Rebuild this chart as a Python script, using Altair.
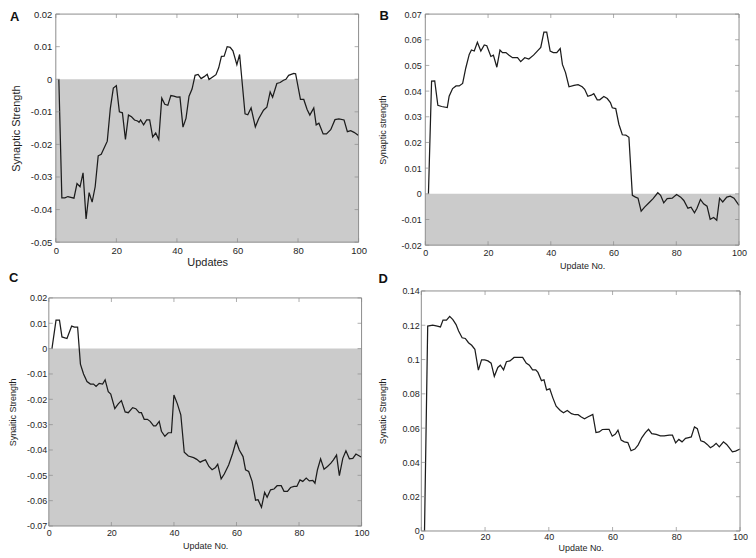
import altair as alt
import pandas as pd

FONT = "Liberation Sans"
TXT = "#1e1e1e"
FRAME = "#8c8c8c"
SHADE = "#cbcbcb"
LINE = "#1c1c1c"

X_TICKS = [0, 20, 40, 60, 80, 100]

# ---------------- Panel A ----------------
a_x = [1, 2, 3, 4, 6, 7, 8, 9, 10, 11, 12, 13, 14, 15, 16, 17, 18, 19, 20, 21, 22, 23, 24, 25, 26, 27, 27.5,
       28, 29, 30, 31, 32, 33, 34, 35, 36, 37, 38, 39, 40, 41, 42, 43, 44, 45, 46, 47, 48, 49, 50,
       50.6, 51.8, 52.9, 53.8, 54.7, 55.6, 56.6, 57.6, 58.5, 59.8, 60.7,
       62.5, 63.4, 64.5, 65.9, 67, 68.6, 69.7, 70.8, 71.6, 73,
       74.1, 75.2, 76, 76.9, 78.6, 79.2, 80.8, 81.9, 83, 83.9,
       85.2, 86, 86.9, 88.3, 89.4, 90.8, 92.2, 93.5, 95.2, 96.3, 97.4, 98.5, 100]
a_y = [0, -0.0364, -0.0364, -0.036, -0.0365, -0.032, -0.033, -0.0287, -0.0429,
       -0.0348, -0.0377, -0.033, -0.0235, -0.023, -0.021, -0.019, -0.009, -0.0027, -0.002, -0.01, -0.0103,
       -0.0185, -0.011, -0.0115, -0.0125, -0.0128, -0.0132,
       -0.0125, -0.014, -0.0125, -0.0125, -0.0177, -0.0165, -0.0185, -0.0058, -0.0077, -0.008, -0.005,
       -0.0052, -0.0055, -0.0054, -0.0147, -0.012, -0.0052, -0.003, 0.0012, 0.0015, 0.0002, 0.0008, 0.0015,
       -0.0001, 0.0007, 0.0014, 0.0035, 0.007, 0.0071, 0.01, 0.0098, 0.0087, 0.0045, 0.0076,
       -0.0106, -0.0109, -0.0088, -0.0146, -0.0121, -0.0095, -0.0086, -0.0039, -0.0055, -0.0013,
       -0.001, -0.0003, 0, 0.0012, 0.0018, 0.0017, -0.0062, -0.0062, -0.0093, -0.011,
       -0.0088, -0.014, -0.0135, -0.0168, -0.0168, -0.0155, -0.0124, -0.0122, -0.0125, -0.0161,
       -0.0158, -0.0163, -0.0173]
a_yticks = [-0.05, -0.04, -0.03, -0.02, -0.01, 0, 0.01, 0.02]

# ---------------- Panel B ----------------
b_x = [1, 2, 3, 4, 5.2, 7, 7.6, 8.7, 9.8, 10.8, 11.9, 12.9, 14, 14.7, 15.6, 16.6, 17.7, 18.8, 19.6, 20.9,
       21.7, 22.8, 23.8, 24.6, 25.7, 26.7, 27.8, 29.4, 30.4, 31.7, 33, 34.5, 35.7, 36.8, 37.8, 38.7, 39.8,
       40.8, 41.9, 43, 43.7, 44.7, 45.8, 47.4, 48.7, 50, 50.8, 51.8, 52.9, 53.7, 54.8, 55.6, 56.9, 58, 59,
       59.6, 60.7, 61.7, 62.8, 63.9, 64.9, 66, 67, 67.8, 68.8, 69.9, 71.3, 72.6, 74.1, 75, 76, 77.1, 78.7,
       80.1, 81.4, 82.4, 83.7, 84.7, 85.8, 86.6, 87.7, 88.7, 89.8, 90.8, 91.9, 92.9, 93.8, 94.8, 96.1, 97.2,
       98.4, 100]
b_y = [0, 0.0439, 0.044, 0.0345, 0.034, 0.0336, 0.038, 0.041, 0.042, 0.042, 0.043, 0.049, 0.0543, 0.056,
       0.0556, 0.059, 0.0556, 0.058, 0.0577, 0.0535, 0.054, 0.0493, 0.056, 0.055, 0.055, 0.054, 0.053,
       0.053, 0.0515, 0.053, 0.0525, 0.054, 0.0556, 0.057, 0.063, 0.063, 0.0556, 0.055, 0.055, 0.0566,
       0.0504, 0.0472, 0.0417, 0.0422, 0.0425, 0.0417, 0.0407, 0.038, 0.0384, 0.039, 0.0366, 0.0366,
       0.0379, 0.0371, 0.0355, 0.0335, 0.0332, 0.0271, 0.023, 0.0229, 0.022, -0.0006, -0.0013, -0.0017,
       -0.0068, -0.0052, -0.0035, -0.0019, 0.0004, -0.0006, -0.0035, -0.0019, -0.0017, -0.0003, -0.0013,
       -0.0026, -0.0056, -0.0052, -0.0074, -0.0056, -0.0022, -0.0039, -0.0048, -0.0099, -0.0092, -0.0103,
       -0.0017, -0.0032, -0.0013, -0.0009, -0.0017, -0.0045]
b_yticks = [-0.02, -0.01, 0, 0.01, 0.02, 0.03, 0.04, 0.05, 0.06, 0.07]

# ---------------- Panel C ----------------
c_x = [1, 2.3, 3.4, 4.2, 5.8, 7.3, 8.2, 9.2, 10.1, 11.1, 12.2, 13.3, 14.3, 15.1, 16.1, 17.2, 18, 19, 19.8,
       21.1, 22.2, 23.2, 24.4, 25.4, 26.8, 27.8, 28.9, 29.6, 30.5, 31.5, 32.4, 33.5, 34.2, 35.3, 36, 37.1,
       38.2, 39.2, 40, 41.1, 42.2, 43.3, 44.6, 46.3, 47.3, 48.4, 49.2, 50.1, 51.2, 52.2, 53.3, 54, 55.1,
       56.1, 57.5, 58.8, 59.9, 60.9, 62.1, 62.9, 63.9, 65, 66.1, 66.9, 68, 69, 69.8, 70.9, 72, 73, 74.3,
       75.2, 76.3, 77.3, 78.4, 79.3, 80.3, 81.2, 82.3, 83.3, 84.4, 85.1, 85.9, 86.9, 88, 89.1, 90.2, 91,
       92, 92.9, 94, 95, 96.1, 97.2, 98.2, 100]
c_y = [0, 0.0112, 0.0112, 0.0046, 0.004, 0.0089, 0.0085, 0.0085, -0.0061, -0.01, -0.013, -0.014, -0.014,
       -0.0149, -0.0137, -0.014, -0.0123, -0.017, -0.0179, -0.0237, -0.0218, -0.0205, -0.025, -0.0253,
       -0.0233, -0.0237, -0.0253, -0.0253, -0.0279, -0.0279, -0.0287, -0.0305, -0.0305, -0.0287, -0.0326,
       -0.0346, -0.0332, -0.0332, -0.0183, -0.0218, -0.0261, -0.0409, -0.0424, -0.043, -0.0437, -0.0448,
       -0.0443, -0.0439, -0.0465, -0.0478, -0.0469, -0.0456, -0.0514, -0.0495, -0.0459, -0.0413, -0.0365,
       -0.04, -0.0426, -0.0478, -0.0485, -0.0524, -0.0598, -0.0596, -0.0626, -0.0567, -0.0587, -0.0557,
       -0.0554, -0.0541, -0.0541, -0.0563, -0.0563, -0.0548, -0.0544, -0.0544, -0.0518, -0.0524, -0.0511,
       -0.0522, -0.052, -0.0531, -0.0478, -0.0435, -0.0476, -0.0465, -0.0452, -0.0439, -0.042, -0.0501,
       -0.0433, -0.0403, -0.0435, -0.0433, -0.0416, -0.0429]
c_yticks = [-0.07, -0.06, -0.05, -0.04, -0.03, -0.02, -0.01, 0, 0.01, 0.02]

# ---------------- Panel D ----------------
d_x = [1, 2, 3.6, 5, 6, 6.8, 7.9, 8.9, 9.9, 10.9, 11.7, 12.8, 13.8, 14.8, 15.8, 16.8, 17.9, 18.9, 19.9, 20.9,
       21.9, 22.9, 24, 24.8, 25.8, 26.7, 27.8, 29.1, 30.3, 31.8, 32.9, 33.9, 34.9, 35.9, 36.6, 37.7, 38.5,
       39.3, 40.3, 41.3, 42.3, 43.6, 44.6, 45.8, 47.1, 48.2, 49.2, 50.2, 51.2, 52.2, 53.8, 54.8, 55.8, 56.8,
       58, 58.9, 59.9, 60.9, 61.7, 62.7, 63.7, 64.8, 65.8, 67, 68, 69.2, 70.3, 71.3, 72.3, 73.7, 75, 76.2,
       77.8, 78.8, 79.8, 80.8, 81.8, 82.9, 83.9, 84.7, 85.7, 86.6, 87.7, 88.7, 89.7, 90.7, 91.7, 92.5, 93.5,
       94.8, 95.8, 96.6, 97.6, 98.6, 100]
d_y = [0, 0.1195, 0.12, 0.1195, 0.119, 0.123, 0.123, 0.1252, 0.1233, 0.1204, 0.1166, 0.1127, 0.1123, 0.1098,
       0.1083, 0.106, 0.0938, 0.0998, 0.0998, 0.0992, 0.0979, 0.0902, 0.0954, 0.0967, 0.094, 0.0987,
       0.0992, 0.1012, 0.1012, 0.1012, 0.0979, 0.0967, 0.094, 0.094, 0.0925, 0.0877, 0.0882, 0.0823,
       0.0829, 0.0775, 0.0728, 0.0703, 0.069, 0.0703, 0.0684, 0.0678, 0.0678, 0.0665, 0.0655, 0.0665,
       0.068, 0.0574, 0.0578, 0.0592, 0.0593, 0.0593, 0.0553, 0.0565, 0.0588, 0.053, 0.052, 0.0516,
       0.0468, 0.0478, 0.0501, 0.0545, 0.0574, 0.0593, 0.0568, 0.0563, 0.0555, 0.0555, 0.0559, 0.0559,
       0.0514, 0.0534, 0.052, 0.054, 0.0545, 0.0549, 0.0607, 0.0597, 0.0526, 0.052, 0.0505, 0.0486,
       0.0497, 0.0511, 0.0491, 0.052, 0.0505, 0.0486, 0.0462, 0.0466, 0.0478]
d_yticks = [0, 0.02, 0.04, 0.06, 0.08, 0.1, 0.12, 0.14]


def panel(xs, ys, yticks, shaded, letter, lx, ly, xtitle, ytitle, w, h, top_off, left_off,
          lab_fs, tit_fs, ytp, xtp, lpad_y, lpad_x):
    ymin, ymax = yticks[0], yticks[-1]
    H = h + top_off
    W = w + left_off
    line_df = pd.DataFrame({"x": xs, "y": ys})
    shade_df = pd.DataFrame({"x0": [X_TICKS[0]], "x1": [X_TICKS[-1]],
                             "y0": [ymin], "y1": [0 if shaded else ymin]})
    frame_df = pd.DataFrame({"x0": [X_TICKS[0]], "x1": [X_TICKS[-1]],
                             "y0": [ymin], "y1": [ymax]})
    xt_top = pd.DataFrame({"x": X_TICKS, "y": [ymax] * len(X_TICKS)})
    xt_bot = pd.DataFrame({"x": X_TICKS, "y": [ymin] * len(X_TICKS)})
    yt_left = pd.DataFrame({"x": [X_TICKS[0]] * len(yticks), "y": yticks})
    yt_right = pd.DataFrame({"x": [X_TICKS[-1]] * len(yticks), "y": yticks})

    xs_ = alt.Scale(domain=[X_TICKS[0], X_TICKS[-1]], nice=False, zero=False, range=[left_off, W])
    ys_ = alt.Scale(domain=[ymin, ymax], nice=False, zero=False, range=[H, top_off])
    lab = dict(labelFont=FONT, labelFontSize=lab_fs, labelColor=TXT, labelFlush=False,
               labelOverlap=False, titleFont=FONT, titleFontSize=tit_fs,
               titleFontWeight="normal", titleColor=TXT, labelExpr="'' + datum.value",
               ticks=False, tickSize=0, domain=False, grid=False)
    x_ax = alt.Axis(orient="bottom", values=X_TICKS, title=xtitle, titlePadding=xtp,
                    labelPadding=lpad_x, **lab)
    y_ax = alt.Axis(orient="left", values=yticks, title=ytitle, titlePadding=ytp,
                    labelPadding=lpad_y, offset=-left_off, **lab)

    def X(f):
        return alt.X(f, scale=xs_, axis=x_ax)

    def Y(f):
        return alt.Y(f, scale=ys_, axis=y_ax)

    shade = alt.Chart(shade_df).mark_rect(color=SHADE).encode(
        x=X("x0:Q"), x2="x1:Q", y=Y("y0:Q"), y2="y1:Q")
    line = alt.Chart(line_df).mark_line(color=LINE, strokeWidth=1.25).encode(
        x=X("x:Q"), y=Y("y:Q"))
    frame = alt.Chart(frame_df).mark_rect(fill="transparent", stroke=FRAME, strokeWidth=1).encode(
        x=X("x0:Q"), x2="x1:Q", y=Y("y0:Q"), y2="y1:Q")
    tk = dict(color=FRAME, size=4, thickness=1)
    t1 = alt.Chart(xt_top).mark_tick(orient="vertical", yOffset=2, **tk).encode(x=X("x:Q"), y=Y("y:Q"))
    t2 = alt.Chart(xt_bot).mark_tick(orient="vertical", yOffset=-2, **tk).encode(x=X("x:Q"), y=Y("y:Q"))
    t3 = alt.Chart(yt_left).mark_tick(orient="horizontal", xOffset=2, **tk).encode(x=X("x:Q"), y=Y("y:Q"))
    t4 = alt.Chart(yt_right).mark_tick(orient="horizontal", xOffset=-2, **tk).encode(x=X("x:Q"), y=Y("y:Q"))
    let = alt.Chart(pd.DataFrame({"t": [letter]})).mark_text(
        font=FONT, fontSize=13, fontWeight="bold", align="left", baseline="top", color="#111"
    ).encode(text="t:N", x=alt.value(lx + left_off), y=alt.value(ly + top_off))
    return alt.layer(shade, line, frame, t1, t2, t3, t4, let).properties(width=W, height=H)


pA = panel(a_x, a_y, a_yticks, True, "A", -46, -3.5, "Updates", "Synaptic Strength", 304, 229, 0, 7,
           9.5, 11, 9, 2, 4, 3)
pB = panel(b_x, b_y, b_yticks, True, "B", -46, -4, "Update No.", "Synaptic strength", 315, 232, 0, 0,
           9, 9, 13, 4, 4, 3)
pC = panel(c_x, c_y, c_yticks, True, "C", -40, -25.5, "Update No.", "Synaitic Strength", 314, 229, 7, 0,
           9, 9, 9, 4, 2, 3)
pD = panel(d_x, d_y, d_yticks, False, "D", -43, -18, "Update No.", "Synatic Strength", 320, 241, 0, 0,
           9, 9, 14, 2, 2, 2)

row1 = alt.hconcat(pA, pB, spacing=12)
row2 = alt.hconcat(pC, pD, spacing=9)
chart = alt.vconcat(row1, row2, spacing=2).properties(padding=0, background="white").configure_view(
    stroke="transparent", strokeWidth=0)

chart.save("out.html", embed_options={"renderer": "svg", "actions": False})
